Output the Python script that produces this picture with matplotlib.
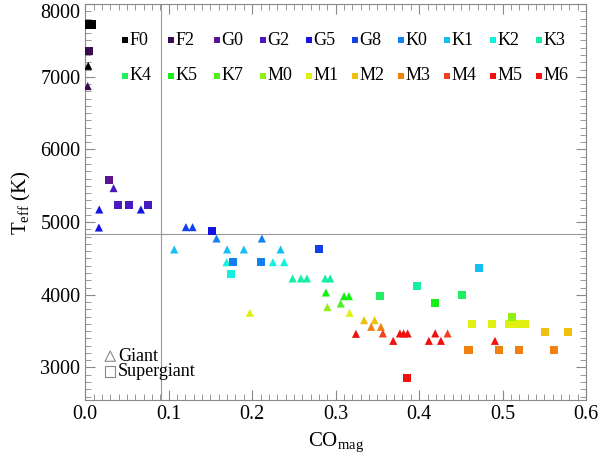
"""Teff vs CO_mag for giants and supergiants, coloured by spectral type"""

import matplotlib
matplotlib.use("Agg")
import matplotlib.pyplot as plt
import matplotlib.transforms as mtransforms
from matplotlib.ticker import MultipleLocator

plt.rcParams["font.family"] = ["Liberation Serif", "DejaVu Serif"]
plt.rcParams["mathtext.fontset"] = "custom"
plt.rcParams["mathtext.rm"] = "Liberation Serif"
plt.rcParams["mathtext.it"] = "Liberation Serif:italic"

# spectral types and their colours
sp_types = ["F0", "F2", "G0", "G2", "G5", "G8", "K0", "K1", "K2", "K3",
            "K4", "K5", "K7", "M0", "M1", "M2", "M3", "M4", "M5", "M6"]
sp_colors = ["#000000", "#3a0a50", "#5a1490", "#4818c0", "#1414e0", "#1040f0",
             "#1480f0", "#14c0f0", "#14f0e0", "#14f0a0", "#20f060", "#14f014",
             "#50f020", "#90f010", "#e0f010", "#f0c010", "#f08010", "#f04020",
             "#f01010", "#f01010"]

# giants (triangles)
giant_x = [0.0036, 0.003, 0.034, 0.0168, 0.0164, 0.0667, 0.1206, 0.1286,
           0.1573, 0.2116, 0.1066, 0.170, 0.190, 0.234, 0.1693, 0.2248, 0.2383,
           0.2484, 0.2583, 0.2655, 0.2874, 0.2934, 0.2883, 0.310, 0.3158,
           0.290, 0.306, 0.3166, 0.1972, 0.334, 0.3466, 0.3425, 0.3541,
           0.3242, 0.3565, 0.3689, 0.3769, 0.3813, 0.3861, 0.4116, 0.4192,
           0.426, 0.434, 0.4907]
giant_teff = [7151, 6872, 5468, 5174, 4926, 5174, 4931, 4931,
              4775, 4775, 4624, 4624, 4624, 4624, 4449, 4449, 4449,
              4225, 4225, 4225, 4225, 4225, 4032, 3981, 3981,
              3830, 3880, 3752, 3752, 3651, 3651, 3559, 3559,
              3463, 3468, 3366, 3468, 3468, 3468, 3366, 3468,
              3366, 3468, 3366]
giant_type = ["F0", "F2", "G2", "G5", "G5", "G5", "G8", "G8",
              "K0", "K0", "K1", "K1", "K1", "K1", "K2", "K2", "K2",
              "K3", "K3", "K3", "K3", "K3", "K5", "K5", "K5",
              "M0", "K7", "M1", "M1", "M2", "M2", "M3", "M3",
              "M5", "M4", "M5", "M5", "M5", "M5", "M5", "M5",
              "M5", "M4", "M5"]

# supergiants (squares)
sg_x = [0.003, 0.008, 0.005, 0.0287, 0.0395, 0.0527, 0.0754, 0.1514,
        0.2795, 0.1765, 0.2104, 0.1745, 0.3529, 0.3976, 0.4188, 0.4515,
        0.4719, 0.3849, 0.4627, 0.487, 0.5082, 0.5178, 0.5269, 0.5114,
        0.5509, 0.5778, 0.4591, 0.4958, 0.519, 0.561]
sg_teff = [7720, 7720, 7357, 5578, 5234, 5234, 5234, 4880,
           4633, 4449, 4449, 4288, 3981, 4119, 3889, 3991,
           4367, 2849, 3592, 3592, 3592, 3592, 3592, 3692,
           3486, 3486, 3238, 3238, 3238, 3238]
sg_type = ["F0", "F0", "F2", "G0", "G2", "G2", "G2", "G5",
           "G8", "K0", "K0", "K2", "K4", "K3", "K5", "K4",
           "K1", "M5", "M1", "M1", "M1", "M1", "M1", "M0",
           "M2", "M2", "M3", "M3", "M3", "M3"]

cvals_ref = (0.0907, 4830)

color_of = dict(zip(sp_types, sp_colors))

fig = plt.figure(figsize=(6.0, 4.61), dpi=100)
ax = fig.add_axes([0.142, 0.132, 0.835, 0.859])

ax.axvline(cvals_ref[0], color="#999999", lw=0.8, zorder=1)
ax.axhline(cvals_ref[1], color="#999999", lw=0.8, zorder=1)

ax.scatter(giant_x, giant_teff, marker="^", s=34, linewidths=0,
           c=[color_of[t] for t in giant_type], zorder=3)
ax.scatter(sg_x, sg_teff, marker="s", s=34, linewidths=0,
           c=[color_of[t] for t in sg_type], zorder=3)

ax.set_xlim(0, 0.6)
ax.set_ylim(2550, 8000)
ax.xaxis.set_major_locator(MultipleLocator(0.1))
ax.xaxis.set_minor_locator(MultipleLocator(0.01))
ax.yaxis.set_major_locator(MultipleLocator(1000))
ax.yaxis.set_minor_locator(MultipleLocator(100))
ax.tick_params(which="both", direction="in", top=True, right=True,
               color="#888888", labelsize=14.5)
ax.tick_params(which="major", length=7, width=0.8)
ax.tick_params(which="minor", length=4, width=0.6)
ax.set_xticks(ax.get_xticks())
ax.set_xticklabels(["%.1f" % v for v in ax.get_xticks()])
ax.set_xlim(0, 0.6)
for sp in ax.spines.values():
    sp.set_color("#888888")
    sp.set_linewidth(0.8)

# push the top y label down a little so it is not clipped
fig.canvas.draw()
shift = mtransforms.ScaledTranslation(0, -7 / 100.0, fig.dpi_scale_trans)
for lab in ax.get_yticklabels():
    if lab.get_text() == "8000":
        lab.set_transform(lab.get_transform() + shift)

ax.set_xlabel(r"CO$_{\rm mag}$", fontsize=15, labelpad=5)
ax.set_ylabel(r"T$_{\rm eff}$ (K)", fontsize=15, labelpad=5)

# spectral type key, two rows of ten
for i, (name, col) in enumerate(zip(sp_types, sp_colors)):
    px = 125 - 85.3 + (i % 10) * 46.0
    py = 40 - 4 + (i // 10) * 35.7
    xa, ya = px / 501.0, 1 - py / 396.0
    ax.scatter([xa], [ya], marker="s", s=22, c=col, linewidths=0,
               transform=ax.transAxes, zorder=4, clip_on=False)
    ax.text(xa + 4.5 / 501.0, ya, name, transform=ax.transAxes,
            fontsize=13, va="center", ha="left")

# giant / supergiant key
for j, (mk, lab) in enumerate([("^", "Giant"), ("s", "Supergiant")]):
    ya = 1 - (356 - 4 + j * 15.5) / 396.0
    ax.scatter([25 / 501.0], [ya], marker=mk, s=55, facecolors="none",
               edgecolors="#888888", linewidths=0.8, transform=ax.transAxes)
    ax.text(33 / 501.0, ya, lab, transform=ax.transAxes, fontsize=13,
            va="center", ha="left")

fig.savefig("out.png", dpi=100)
